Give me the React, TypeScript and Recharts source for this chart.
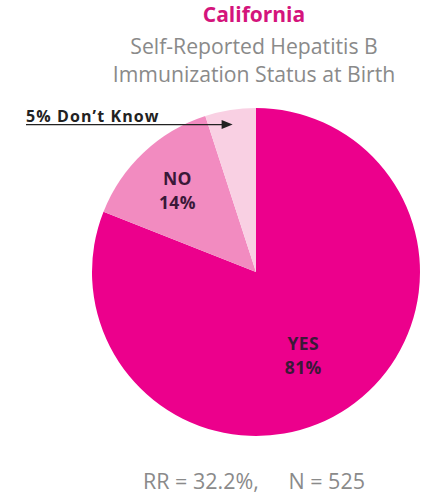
import { PieChart, Pie, Cell } from 'recharts';

const categories = ['YES', 'NO', "Don't Know"];
const shares = [81, 14, 5];
const sliceColors = ['#EC008C', '#F28BC0', '#F9D0E3'];

const title = 'California';
const subtitle = ['Self-Reported Hepatitis B', 'Immunization Status at Birth'];
const footnote = ['RR = 32.2%,', 'N = 525'];

const pieData = categories.map((name, i) => ({ name, value: shares[i] }));

const FONT = '"Open Sans", Lato, sans-serif';
const RAD = Math.PI / 180;

const renderLabel = (props: any) => {
  const { cx, cy, midAngle, outerRadius, name, value, index } = props;
  if (name === "Don't Know") {
    // arrow from the left-hand caption into the thin slice
    const tipX = cx + outerRadius * 0.91 * Math.cos(-midAngle * RAD);
    const tipY = cy + outerRadius * 0.91 * Math.sin(-midAngle * RAD);
    return (
      <g key={`lbl-${index}`}>
        <text
          x={26}
          y={tipY - 3}
          fontFamily={FONT}
          fontSize={16}
          fontWeight={700}
          letterSpacing={1.1}
          fill="#222"
        >
          {`${value}% Don\u2019t Know`}
        </text>
        <line x1={26} y1={tipY} x2={tipX - 7} y2={tipY} stroke="#222" strokeWidth={1.4} />
        <polygon
          points={`${tipX},${tipY} ${tipX - 11},${tipY - 4.5} ${tipX - 11},${tipY + 4.5}`}
          fill="#222"
        />
      </g>
    );
  }
  const isYes = name === 'YES';
  const r = outerRadius * (isYes ? 0.6 : 0.7);
  const x = cx + r * Math.cos(-midAngle * RAD) - (isYes ? 8 : 0);
  const y = cy + r * Math.sin(-midAngle * RAD);
  const textProps = {
    textAnchor: 'middle' as const,
    fontFamily: FONT,
    fontSize: 17.5,
    fontWeight: 700,
    fill: '#3A1838',
    letterSpacing: 0.4,
  };
  return (
    <g key={`lbl-${index}`}>
      <text x={x} y={y - 3} {...textProps}>{name}</text>
      <text x={x} y={y + 21} {...textProps}>{`${value}%`}</text>
    </g>
  );
};

export default function App() {
  return (
    <div style={{ position: 'absolute', left: 0, top: 0, width: 423, height: 496, background: '#fff' }}>
      <PieChart width={423} height={496} margin={{ top: 0, right: 0, bottom: 0, left: 0 }}>
        <text x={254} y={22} textAnchor="middle" fontFamily={FONT} fontSize={21} fontWeight={700} fill="#D4147C">
          {title}
        </text>
        <text x={254} y={54} textAnchor="middle" fontFamily={FONT} fontSize={21.2} fill="#8A8A8A">
          {subtitle[0]}
        </text>
        <text x={254} y={82} textAnchor="middle" fontFamily={FONT} fontSize={21.2} fill="#8A8A8A">
          {subtitle[1]}
        </text>
        <Pie
          data={pieData}
          dataKey="value"
          nameKey="name"
          cx={256}
          cy={272}
          outerRadius={164}
          startAngle={90}
          endAngle={-270}
          stroke="none"
          label={renderLabel}
          labelLine={false}
          isAnimationActive={false}
        >
          {pieData.map((d, i) => (
            <Cell key={`cell-${d.name}`} fill={sliceColors[i]} />
          ))}
        </Pie>
        <text x={143} y={489} fontFamily={FONT} fontSize={21.5} fill="#8A8A8A">
          {footnote[0]}
        </text>
        <text x={365} y={489} textAnchor="end" fontFamily={FONT} fontSize={21.5} fill="#8A8A8A">
          {footnote[1]}
        </text>
      </PieChart>
    </div>
  );
}
